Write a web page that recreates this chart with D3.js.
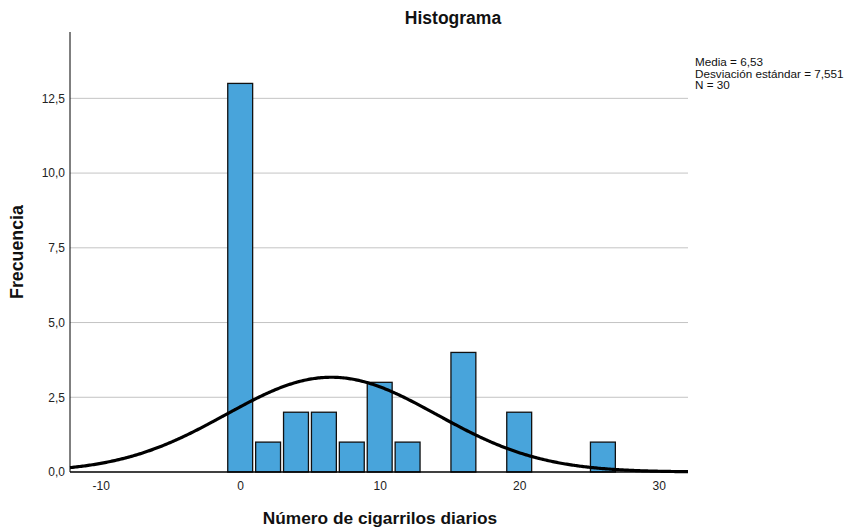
<!DOCTYPE html>
<html>
<head>
<meta charset="utf-8">
<script src="https://cdn.jsdelivr.net/npm/d3@7"></script>
<style>
  body { margin: 0; background: #fff; }
  svg { display: block; font-family: "Liberation Sans", Arial, sans-serif; }
</style>
</head>
<body>
<svg id="chart" width="845" height="527"></svg>
<script>
// bin centres and counts (bin width 2)
var binCenters = [0, 2, 4, 6, 8, 10, 12, 16, 20, 26];
var binCounts = [13, 1, 2, 2, 1, 3, 1, 4, 2, 1];
var binWidth = 2;
var yTicks = [0, 2.5, 5, 7.5, 10, 12.5];
var xTicks = [-10, 0, 10, 20, 30];
var statsLabels = ['Media = 6,53', 'Desviación estándar = 7,551', 'N = 30'];
var mean = 6.53, sd = 7.551, n = 30;

var svg = d3.select('#chart');
var plotLeft = 70, plotRight = 688, plotTop = 32, plotBottom = 472;

var x = d3.scaleLinear().domain([-12.2, 32.1]).range([plotLeft, plotRight]);
var y = d3.scaleLinear().domain([0, 14.72]).range([plotBottom, plotTop]);
var fmt = function (d) { return d3.format('.1f')(d).replace('.', ','); };

// gridlines
svg.append('g').selectAll('line')
    .data(yTicks.filter(function (d) { return d > 0; }))
    .join('line')
    .attr('x1', plotLeft).attr('x2', plotRight)
    .attr('y1', function (d) { return y(d); })
    .attr('y2', function (d) { return y(d); })
    .attr('stroke', '#c4c4c4').attr('stroke-width', 1);

// y axis (labels only, no ticks)
var yAxis = svg.append('g')
    .attr('transform', 'translate(' + plotLeft + ',0)')
    .call(d3.axisLeft(y).tickValues(yTicks).tickFormat(fmt).tickSize(0).tickPadding(5));
yAxis.select('.domain').remove();
yAxis.selectAll('text').attr('font-size', 12).attr('fill', '#222')
    .style('font-family', '"Liberation Sans", Arial, sans-serif');

var xAxis = svg.append('g')
    .attr('transform', 'translate(0,' + plotBottom + ')')
    .call(d3.axisBottom(x).tickValues(xTicks).tickFormat(function (d) { return String(d); }).tickSize(0).tickPadding(9));
xAxis.select('.domain').remove();
xAxis.selectAll('text').attr('font-size', 12).attr('fill', '#222')
    .style('font-family', '"Liberation Sans", Arial, sans-serif');

// bars
svg.append('g').selectAll('rect')
    .data(binCenters)
    .join('rect')
    .attr('x', function (d) { return x(d - binWidth / 2) + 1.5; })
    .attr('width', function (d) { return x(d + binWidth / 2) - x(d - binWidth / 2) - 3; })
    .attr('y', function (d, i) { return y(binCounts[i]); })
    .attr('height', function (d, i) { return y(0) - y(binCounts[i]); })
    .attr('fill', '#48a4db')
    .attr('stroke', '#111').attr('stroke-width', 1.3);

// normal curve from the stated mean / sd / N
var curvePts = d3.range(-12.2, 32.11, 0.1).map(function (v) {
    var z = (v - mean) / sd;
    return [v, n * binWidth * Math.exp(-0.5 * z * z) / (sd * Math.sqrt(2 * Math.PI))];
});
svg.append('path')
    .datum(curvePts)
    .attr('d', d3.line().x(function (d) { return x(d[0]); }).y(function (d) { return y(d[1]); }).curve(d3.curveBasis))
    .attr('fill', 'none').attr('stroke', '#000').attr('stroke-width', 3.2);

// axis lines
svg.append('line').attr('x1', plotLeft).attr('x2', plotLeft).attr('y1', plotTop).attr('y2', plotBottom)
    .attr('stroke', '#000').attr('stroke-width', 1);
svg.append('line').attr('x1', plotLeft).attr('x2', plotRight).attr('y1', plotBottom).attr('y2', plotBottom)
    .attr('stroke', '#000').attr('stroke-width', 1.5);

// titles
svg.append('text').attr('x', 453).attr('y', 24).attr('text-anchor', 'middle')
    .attr('font-size', 17.5).attr('font-weight', 'bold').attr('fill', '#111').text('Histograma');
svg.append('text').attr('x', 380).attr('y', 524).attr('text-anchor', 'middle')
    .attr('font-size', 17.3).attr('font-weight', 'bold').attr('fill', '#111').text('Número de cigarrilos diarios');
svg.append('text').attr('transform', 'translate(23,252) rotate(-90)').attr('text-anchor', 'middle')
    .attr('font-size', 17.8).attr('font-weight', 'bold').attr('fill', '#111').text('Frecuencia');

// stats box
svg.append('g').selectAll('text')
    .data(statsLabels)
    .join('text')
    .attr('x', 695)
    .attr('y', function (d, i) { return 66 + i * 11.5; })
    .attr('font-size', 11.7).attr('fill', '#111')
    .text(function (d) { return d; });
</script>
</body>
</html>
